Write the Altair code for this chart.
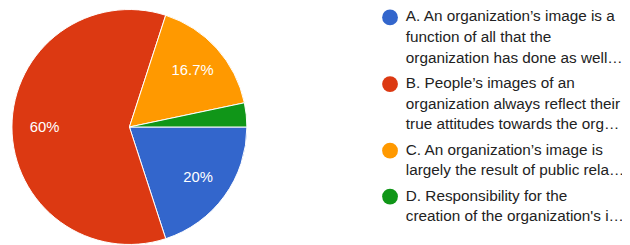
import altair as alt
import pandas as pd
import math

# ---- data ----
keys = ["A", "B", "C", "D"]
values = [20, 60, 16.7, 3.3]
slice_labels = ["20%", "60%", "16.7%", ""]
legend_texts = [
    "A. An organization\u2019s image is a\nfunction of all that the\norganization has done as well\u2026",
    "B. People\u2019s images of an\norganization always reflect their\ntrue attitudes towards the org\u2026",
    "C. An organization\u2019s image is\nlargely the result of public rela\u2026",
    "D. Responsibility for the\ncreation of the organization's i\u2026",
]
colors = ["#3366CC", "#DC3912", "#FF9900", "#109618"]

# ---- tables ----
pie_df = pd.DataFrame({"key": keys, "value": values, "label": slice_labels, "order": range(len(keys))})

nlines = [t.count("\n") + 1 for t in legend_texts]
lines_before = [sum(nlines[:i]) for i in range(len(nlines))]
entry_gap = 4.5 / 21.0
legend_df = pd.DataFrame({
    "key": keys,
    "text": legend_texts,
    "pos": [lb + i * entry_gap for i, lb in enumerate(lines_before)],
})

# layout constants (pixels)
CX, CY, R = 123, 119, 119
LEG_X = 379

color = alt.Color("key:N", scale=alt.Scale(domain=keys, range=colors), legend=None)
theta = alt.Theta("value:Q", stack=True,
                  scale=alt.Scale(range=[math.pi / 2, math.pi / 2 + 2 * math.pi]))

base = alt.Chart(pie_df).encode(theta=theta, order=alt.Order("order:Q"),
                                x=alt.value(CX), y=alt.value(CY))
arcs = base.mark_arc(outerRadius=R, stroke="white", strokeWidth=1).encode(color=color)
labels = base.mark_text(radius=86, fontSize=15, font="Liberation Sans", color="white").encode(text="label:N")

ypos = alt.Y("pos:Q", axis=None, scale=alt.Scale(domain=[0, 10], range=[8, 218]))
lbase = alt.Chart(legend_df).encode(y=ypos)
dots = lbase.mark_circle(size=256, opacity=1).encode(x=alt.value(LEG_X + 8), color=color)
texts = lbase.mark_text(align="left", baseline="top", dy=-8, lineBreak="\n", lineHeight=21,
                        fontSize=15.5, font="Liberation Sans", color="#222222").encode(
    x=alt.value(LEG_X + 24), text="text:N")

chart = alt.layer(arcs, labels, dots, texts).properties(
    width=622, height=237, padding=0,
    autosize=alt.AutoSizeParams(type="none")
).configure_view(stroke=None)

chart.save("out.html", embed_options={"renderer": "svg", "actions": False})
